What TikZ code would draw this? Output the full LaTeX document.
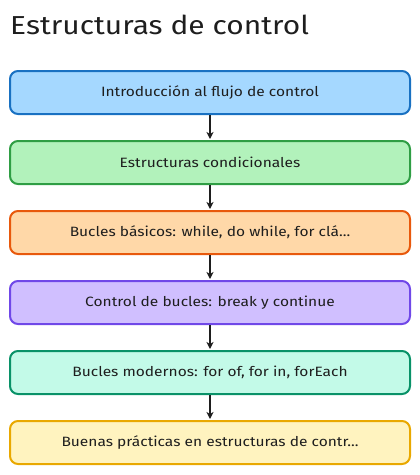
\documentclass[tikz,border=0pt]{standalone}
\usepackage{fontspec}
\setmainfont[FakeStretch=1.15]{Fira Sans}
\usetikzlibrary{arrows.meta}
\definecolor{f1}{HTML}{A5D8FF}\definecolor{s1}{HTML}{1971C2}
\definecolor{f2}{HTML}{B2F2BB}\definecolor{s2}{HTML}{2F9E44}
\definecolor{f3}{HTML}{FFD8A8}\definecolor{s3}{HTML}{E8590C}
\definecolor{f4}{HTML}{D0BFFF}\definecolor{s4}{HTML}{7048E8}
\definecolor{f5}{HTML}{C3FAE8}\definecolor{s5}{HTML}{099268}
\definecolor{f6}{HTML}{FFF3BF}\definecolor{s6}{HTML}{E9A800}
\definecolor{ink}{HTML}{1E1E1E}
\tikzset{
  box/.style={rounded corners=8pt, line width=2pt, minimum width=400pt, minimum height=43pt,
    inner sep=0pt, font=\fontsize{13.5}{15}\selectfont, text=ink},
  conn/.style={-{Stealth[length=7pt,width=7pt,inset=2pt]}, line width=1.5pt, draw=ink, shorten >=1pt}
}
\begin{document}
\begin{tikzpicture}[x=1pt,y=-1pt]
\useasboundingbox (0,0) rectangle (420,475);
\node[anchor=base west, inner sep=0pt, text=ink, font=\fontsize{26}{28}\selectfont] (title) at (10,34) {Estructuras de control};
\node[box, fill=f1, draw=s1] (b1) at (210,92.5) {Introducción al flujo de control};
\node[box, fill=f2, draw=s2] (b2) at (210,162.5) {Estructuras condicionales};
\node[box, fill=f3, draw=s3] (b3) at (210,232.5) {Bucles básicos: while, do while, for clá...};
\node[box, fill=f4, draw=s4] (b4) at (210,302.5) {Control de bucles: break y continue};
\node[box, fill=f5, draw=s5] (b5) at (210,372.5) {Bucles modernos: for of, for in, forEach};
\node[box, fill=f6, draw=s6] (b6) at (210,442.5) {Buenas prácticas en estructuras de contr...};
\draw[conn] (b1) -- (b2);
\draw[conn] (b2) -- (b3);
\draw[conn] (b3) -- (b4);
\draw[conn] (b4) -- (b5);
\draw[conn] (b5) -- (b6);
\end{tikzpicture}
\end{document}
